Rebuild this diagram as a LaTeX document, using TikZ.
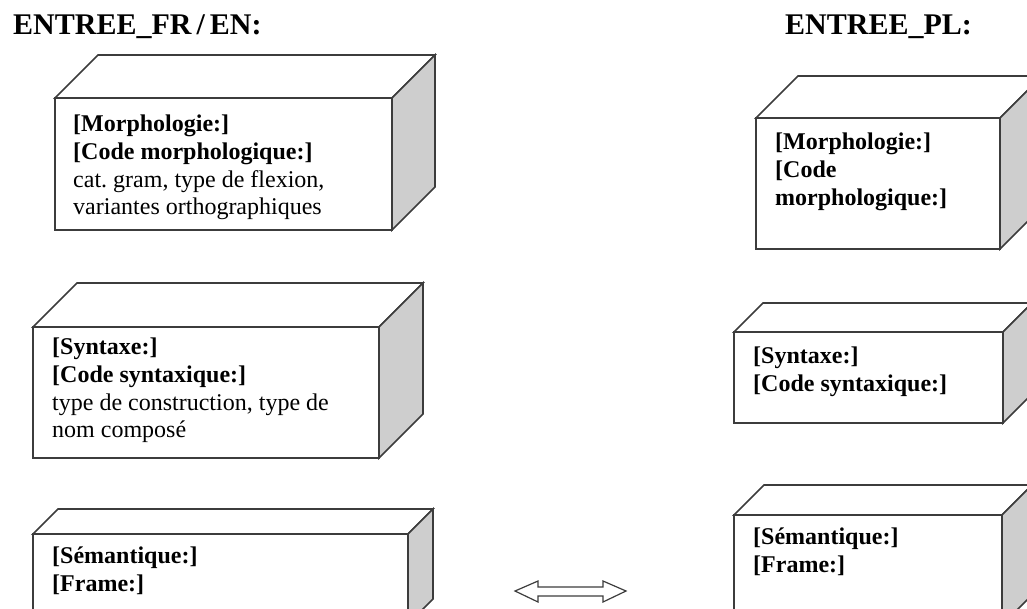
\documentclass[tikz,border=0pt]{standalone}
\usepackage{fontspec}
\setmainfont{Liberation Serif}
\usetikzlibrary{calc}
\frenchspacing

\definecolor{edgecol}{RGB}{60,60,60}
\definecolor{sidegray}{RGB}{206,206,206}

\tikzset{
  edge/.style={draw=edgecol, line width=1.6pt, line join=miter},
  front/.style={edge, fill=white, anchor=north west, inner sep=0pt, outer sep=0pt},
  label/.style={anchor=north west, align=left, inner sep=0pt,
    font=\fontsize{24}{27.6}\selectfont},
  title/.style={anchor=base west, inner sep=0pt,
    font=\fontsize{30}{34}\selectfont\bfseries},
}

% #1 name, #2 left, #3 top, #4 width, #5 height, #6 depth
\newcommand{\cuboid}[6]{%
  \draw[edge, fill=white] (#2,#3) -- ++(#6,-#6) -- ++(#4,0) -- ++(-#6,#6) -- cycle;
  \draw[edge, fill=sidegray] (#2+#4,#3) -- ++(#6,-#6) -- ++(0,#5) -- ++(-#6,#6) -- cycle;
  \node[front, minimum width=#4pt, minimum height=#5pt] (#1) at (#2,#3) {};
}

\begin{document}
\begin{tikzpicture}[x=1pt, y=-1pt]
  \useasboundingbox (0,0) rectangle (1027,608);
  \clip (0,0) rectangle (1027,608);

  % column headings
  \node[title] (hfr) at (13,34) {ENTREE\_FR\,/\,EN:};
  \node[title] (hpl) at (785,34) {ENTREE\_PL:};

  % left column (text blocks placed by their top edge)
  \cuboid{morphfr}{55}{98}{337}{132}{43}
  \node[label] (tmorphfr) at (73,115) {\textbf{[Morphologie:]}\\
    \textbf{[Code morphologique:]}\\
    cat. gram, type de flexion,\\
    variantes orthographiques};

  \cuboid{syntfr}{33}{327}{346}{131}{44}
  \node[label] (tsyntfr) at (52,338) {\textbf{[Syntaxe:]}\\
    \textbf{[Code syntaxique:]}\\
    type de construction, type de\\
    nom composé};

  \cuboid{semfr}{33}{534}{375}{90}{25}
  \node[label] (tsemfr) at (52,547) {\textbf{[Sémantique:]}\\
    \textbf{[Frame:]}};

  % right column
  \cuboid{morphpl}{756}{118}{244}{131}{42}
  \node[label] (tmorphpl) at (775,133) {\textbf{[Morphologie:]}\\
    \textbf{[Code}\\
    \textbf{morphologique:]}};

  \cuboid{syntpl}{734}{332}{269}{91}{29}
  \node[label] (tsyntpl) at (753,347) {\textbf{[Syntaxe:]}\\
    \textbf{[Code syntaxique:]}};

  \cuboid{sempl}{734}{515}{268}{110}{30}
  \node[label] (tsempl) at (753,528) {\textbf{[Sémantique:]}\\
    \textbf{[Frame:]}};

  % correspondence arrow between the two entries
  \coordinate (swap) at (570,591);
  \draw[draw=edgecol, line width=1.2pt, fill=white]
    (swap) ++(-55,0) -- ++(23,-10) -- ++(0,6) -- ++(65,0) -- ++(0,-6)
    -- ++(23,10) -- ++(-23,11) -- ++(0,-6) -- ++(-65,0) -- ++(0,6) -- cycle;
\end{tikzpicture}
\end{document}
